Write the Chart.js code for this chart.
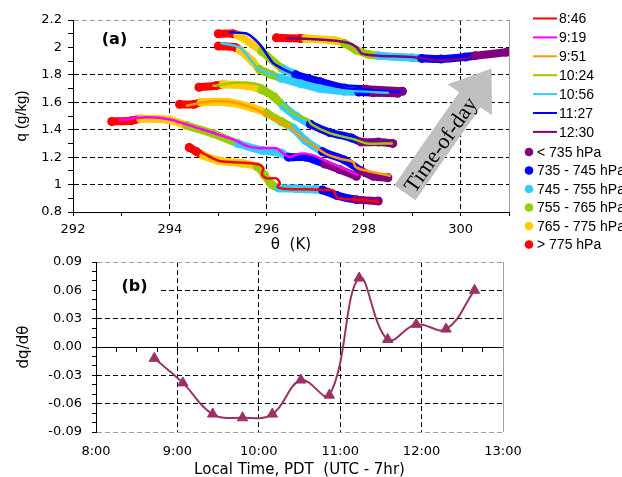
<!DOCTYPE html>
<html><head><meta charset="utf-8">
<script src="https://cdn.jsdelivr.net/npm/chart.js@4/dist/chart.umd.min.js"></script>
<style>
html,body{margin:0;padding:0;background:#fff;}
#wrap{position:relative;width:622px;height:477px;overflow:hidden;}
#ca{position:absolute;left:0;top:0;}
#cb{position:absolute;left:0;top:254px;}
</style></head><body>
<div id="wrap">
<canvas id="ca" width="622" height="254"></canvas>
<canvas id="cb" width="622" height="223"></canvas>
</div>
<script>
// ---------- DATA: panel (a) ----------
const timeLabels = ['8:46','9:19','9:51','10:24','10:56','11:27','12:30'];
const pressureLabels = ['< 735 hPa','735 - 745 hPa','745 - 755 hPa','755 - 765 hPa','765 - 775 hPa','> 775 hPa'];
const xTickLabelsA = ['292','294','296','298','300'];
const yTickLabelsA = ['0.8','1','1.2','1.4','1.6','1.8','2','2.2'];

// profile lines [theta K, q g/kg]
const line0846 = [[294.62,1.24],[294.9,1.19],[295.05,1.17],[295.5,1.16],[295.85,1.145],[295.93,1.12],[295.9,1.075],[296.0,1.045],[296.2,1.045],[296.27,1.01],[296.22,0.985],[296.35,0.97],[296.8,0.965],[297.3,0.96],[297.38,0.955],[297.45,0.905],[297.6,0.895],[298.0,0.885],[298.3,0.875]];
const line0919 = [[292.97,1.47],[293.5,1.49],[294.0,1.475],[294.6,1.41],[295.3,1.33],[295.6,1.28],[295.86,1.265],[296.2,1.265],[296.33,1.23],[296.47,1.2],[296.68,1.225],[296.95,1.215],[297.24,1.17],[297.5,1.13],[297.88,1.07]];
const line0951 = [[294.35,1.575],[294.7,1.6],[294.97,1.61],[295.3,1.6],[295.7,1.56],[296.0,1.51],[296.27,1.46],[296.5,1.42],[296.62,1.37],[296.9,1.3],[297.24,1.22],[297.55,1.185],[297.78,1.165],[297.83,1.13],[297.95,1.11],[298.54,1.065]];
const line1024 = [[294.9,1.72],[295.45,1.745],[295.92,1.72],[296.2,1.63],[296.54,1.52],[296.85,1.475],[296.92,1.44],[297.3,1.375],[297.8,1.33],[298.06,1.3],[298.58,1.3]];
const line1056 = [[295.07,2.03],[295.44,2.0],[295.71,1.89],[295.86,1.83],[296.0,1.815],[296.33,1.78],[296.68,1.74],[297.09,1.71],[297.65,1.685],[298.5,1.67]];
const line1127 = [[295.24,2.11],[295.59,2.1],[295.86,2.02],[296.12,1.89],[296.27,1.855],[296.47,1.82],[296.82,1.775],[297.09,1.745],[297.65,1.7],[298.33,1.685],[298.78,1.677]];
const line1230 = [[296.41,2.065],[296.68,2.065],[297.36,2.05],[297.71,2.03],[297.86,2.0],[297.96,1.955],[298.3,1.94],[299.0,1.93],[299.5,1.905],[300.05,1.92],[300.9,1.96]];

// observation bands [theta, q, pressure class] class: 0 <735, 1 735-745, 2 745-755, 3 755-765, 4 765-775, 5 >775
const band0846 = [[294.4,1.27,5],[294.55,1.24,5],[294.7,1.21,4],[295.0,1.175,4],[295.5,1.155,4],[295.8,1.13,3],[295.95,1.07,3],[296.1,1.0,3],[296.25,0.975,2],[296.6,0.97,2],[297.0,0.965,2],[297.15,0.96,1],[297.45,0.92,1],[297.85,0.89,0],[298.3,0.88,0]];
const band0919 = [[292.8,1.46,5],[293.2,1.465,5],[293.4,1.48,4],[294.0,1.47,4],[294.35,1.43,3],[294.9,1.37,3],[295.4,1.3,2],[295.9,1.25,2],[296.3,1.23,2],[296.45,1.2,1],[296.8,1.2,1],[297.2,1.15,0],[297.5,1.11,0],[297.85,1.06,0]];
const band0951 = [[294.2,1.585,5],[294.5,1.585,5],[294.65,1.6,4],[295.2,1.6,4],[295.7,1.56,4],[296.0,1.52,3],[296.3,1.46,3],[296.55,1.41,2],[296.8,1.32,2],[297.15,1.24,1],[297.6,1.18,1],[297.95,1.1,0],[298.2,1.06,0],[298.5,1.05,0]];
const band1024 = [[294.6,1.71,5],[294.95,1.72,5],[295.1,1.73,4],[295.6,1.72,4],[295.9,1.69,3],[296.15,1.64,3],[296.35,1.57,2],[296.6,1.5,2],[296.9,1.44,1],[297.3,1.38,1],[297.75,1.34,1],[297.95,1.31,0],[298.3,1.31,0],[298.6,1.3,0]];
const band1056 = [[295.0,2.01,5],[295.35,2.0,5],[295.45,1.98,4],[295.7,1.9,4],[295.85,1.84,3],[296.1,1.8,3],[296.3,1.775,2],[296.7,1.735,2],[297.1,1.7,2],[297.6,1.68,2],[297.9,1.675,1],[298.2,1.67,0],[298.7,1.665,0]];
const band1127 = [[295.0,2.1,5],[295.3,2.1,5],[295.4,2.09,4],[295.8,2.0,4],[295.9,1.97,3],[296.3,1.85,3],[296.35,1.84,2],[296.55,1.81,2],[296.6,1.8,1],[297.1,1.75,1],[297.6,1.705,1],[298.05,1.695,0],[298.8,1.68,0]];
const band1230 = [[296.2,2.07,5],[296.7,2.065,5],[296.8,2.065,4],[297.4,2.05,4],[297.6,2.03,3],[297.85,1.98,3],[298.1,1.95,3],[298.3,1.94,2],[299.0,1.925,2],[299.2,1.92,1],[299.6,1.915,1],[300.1,1.93,1],[300.3,1.94,0],[300.95,1.965,0]];

// ---------- DATA: panel (b) ----------
const sampleTimes = ['8:43','9:04','9:26','9:48','10:10','10:31','10:52','11:14','11:35','11:56','12:18','12:39'];
const dqdtheta = [-0.012,-0.038,-0.071,-0.075,-0.071,-0.035,-0.051,0.073,0.008,0.024,0.019,0.060];
const xTickLabelsB = ['8:00','9:00','10:00','11:00','12:00','13:00'];
const yTickLabelsB = ['-0.09','-0.06','-0.03','0.00','0.03','0.06','0.09'];

// ---------- styles ----------
const timeColors = ['#ff0000','#ff00ff','#ff9900','#99cc00','#33ccff','#0000ff','#800080'];
const pressureColors = ['#800080','#0000ff','#33ccff','#99cc00','#ffcc00','#ff0000'];
const lines = [line0846,line0919,line0951,line1024,line1056,line1127,line1230];
const bands = [band0846,band0919,band0951,band1024,band1056,band1127,band1230];

Chart.defaults.font.family = '"DejaVu Sans", sans-serif';
Chart.defaults.color = '#000';

function toHours(s){ const p = s.split(':'); return +p[0] + (+p[1])/60; }
function numLabel(list, v){ const h = list.find(s => Math.abs(parseFloat(s) - v) < 1e-6); return h === undefined ? '' : h; }
function timeLabel(list, v){ const h = list.find(s => Math.abs(toHours(s) - v) < 1e-6); return h === undefined ? '' : h; }

const GRAY = '#a0a0a0';

const frameRight = {
  id: 'frameRight',
  beforeDatasetsDraw(chart){
    const {ctx, chartArea: a} = chart;
    ctx.save(); ctx.strokeStyle = GRAY; ctx.lineWidth = 1; ctx.setLineDash([]);
    const x = Math.round(a.right) + 0.5;
    ctx.beginPath(); ctx.moveTo(x, a.top); ctx.lineTo(x, a.bottom); ctx.stroke();
    ctx.restore();
  }
};
function panelLabel(text, cx, cy, boxRight, boxH){
  return {
    id: 'panelLabel',
    beforeDatasetsDraw(chart){
      const {ctx, chartArea: a} = chart;
      ctx.save();
      ctx.fillStyle = '#fff';
      ctx.fillRect(a.left + 1, a.top + cy - boxH/2, boxRight - a.left - 1, boxH);
      ctx.fillStyle = '#000';
      ctx.font = 'bold 16px "DejaVu Sans"';
      ctx.textAlign = 'center'; ctx.textBaseline = 'middle';
      ctx.fillText(text, a.left + cx, a.top + cy);
      ctx.restore();
    }
  };
}
const legendA = {
  id: 'legendA',
  afterDraw(chart){
    const ctx = chart.ctx;
    ctx.save();
    ctx.font = '14px "Liberation Sans"';
    ctx.textBaseline = 'middle'; ctx.textAlign = 'left';
    timeLabels.forEach((t, i) => {
      const y = 18.5 + i * 18.9;
      ctx.strokeStyle = timeColors[i]; ctx.lineWidth = 2;
      ctx.beginPath(); ctx.moveTo(533, y); ctx.lineTo(557, y); ctx.stroke();
      ctx.fillStyle = '#000'; ctx.fillText(t, 559, y + 1);
    });
    pressureLabels.forEach((p, i) => {
      const y = 152 + i * 18.5;
      ctx.fillStyle = pressureColors[i];
      ctx.beginPath(); ctx.arc(529, y, 4.3, 0, Math.PI * 2); ctx.fill();
      ctx.fillStyle = '#000'; ctx.fillText(p, 537, y + 1);
    });
    ctx.restore();
  }
};
const arrowA = {
  id: 'arrowA',
  afterDatasetsDraw(chart){
    const {ctx, scales} = chart;
    const x0 = scales.x.getPixelForValue(298.85), y0 = scales.y.getPixelForValue(0.94);
    const x1 = scales.x.getPixelForValue(300.64), y1 = scales.y.getPixelForValue(1.846);
    const len = Math.hypot(x1 - x0, y1 - y0);
    const dx = (x1 - x0) / len, dy = (y1 - y0) / len;
    const px = -dy, py = dx;
    const hw = 13, hh = 27, hl = 38;
    const bx = x1 - dx * hl, by = y1 - dy * hl;
    ctx.save();
    ctx.fillStyle = '#c0c0c0';
    ctx.beginPath();
    ctx.moveTo(x0 + px*hw, y0 + py*hw);
    ctx.lineTo(bx + px*hw, by + py*hw);
    ctx.lineTo(bx + px*hh, by + py*hh);
    ctx.lineTo(x1, y1);
    ctx.lineTo(bx - px*hh, by - py*hh);
    ctx.lineTo(bx - px*hw, by - py*hw);
    ctx.lineTo(x0 - px*hw, y0 - py*hw);
    ctx.closePath(); ctx.fill();
    ctx.translate(x0 + dx*60 + px*2, y0 + dy*60 + py*2);
    ctx.rotate(Math.atan2(dy, dx));
    ctx.fillStyle = '#000';
    ctx.font = '22px "Liberation Serif"';
    ctx.textAlign = 'center'; ctx.textBaseline = 'middle';
    ctx.fillText('Time-of-day', 0, 1);
    ctx.restore();
  }
};

// datasets for panel (a): thin time lines on top, colored observation bands beneath
const dsA = [];
lines.forEach((ln, i) => {
  dsA.push({
    label: timeLabels[i],
    data: ln.map(p => ({x: p[0], y: p[1]})),
    showLine: true, borderColor: timeColors[i], borderWidth: 2.5,
    pointRadius: 0, tension: 0.25, order: 0,
    borderCapStyle: 'round', borderJoinStyle: 'round'
  });
});
bands.forEach((bd, i) => {
  dsA.push({
    label: 'obs ' + timeLabels[i],
    data: bd.map(p => ({x: p[0], y: p[1]})),
    showLine: true, borderWidth: 8, tension: 0.25, order: 1,
    pointRadius: 4.5, pointHoverRadius: 4.5, pointBorderWidth: 0,
    pointBackgroundColor: bd.map(p => pressureColors[p[2]]),
    borderColor: pressureColors[bd[0][2]],
    borderCapStyle: 'round', borderJoinStyle: 'round',
    segment: { borderColor: c => pressureColors[bd[c.p0DataIndex][2]] }
  });
});

new Chart(document.getElementById('ca'), {
  type: 'scatter',
  data: { datasets: dsA },
  options: {
    responsive: false, animation: false, devicePixelRatio: 1,
    layout: { padding: { left: 0, right: 113, top: 20, bottom: 0 } },
    plugins: { legend: { display: false }, tooltip: { enabled: false } },
    scales: {
      x: {
        type: 'linear', min: 292, max: 301,
        ticks: { stepSize: 1, autoSkip: false, maxRotation: 0, padding: 6, font: { size: 13 }, color: '#000',
                 callback: v => numLabel(xTickLabelsA, v) },
        grid: { color: c => (Math.round(c.tick.value) % 2 === 0 && c.tick.value > 292.5 && c.tick.value < 300.5) ? '#000' : 'transparent',
                tickColor: '#000', tickLength: 4, lineWidth: 1 },
        border: { display: true, color: '#000', width: 1, dash: [5, 3] },
        title: { display: true, text: 'θ  (K)', font: { size: 15 }, color: '#000', padding: { top: 0, bottom: 0 } },
        afterFit: s => { s.height = 42; }
      },
      y: {
        type: 'linear', min: 0.8, max: 2.2,
        ticks: { stepSize: 0.1, autoSkip: false, padding: 6, font: { size: 13 }, color: '#000',
                 callback: v => numLabel(yTickLabelsA, v) },
        grid: { color: c => {
                  const k = Math.round(c.tick.value * 10);
                  if (k === 22) return GRAY;
                  if (k === 8) return 'transparent';
                  return k % 2 === 0 ? '#000' : 'transparent';
                },
                tickColor: '#000', tickLength: 5, lineWidth: 1 },
        border: { display: true, color: '#000', width: 1, dash: [5, 3] },
        title: { display: true, text: 'q (g/kg)', font: { size: 15, family: '"Liberation Sans"' }, color: '#000', padding: { top: 13, bottom: 0 } },
        afterFit: s => { s.width = 73; s.paddingTop = 8; s.paddingBottom = 8; }
      }
    }
  },
  plugins: [frameRight, panelLabel('(a)', 41.5, 20, 140, 26), legendA, arrowA]
});

new Chart(document.getElementById('cb'), {
  type: 'scatter',
  data: { datasets: [{
    label: 'dq/dθ',
    data: sampleTimes.map((t, i) => ({ x: toHours(t), y: dqdtheta[i] })),
    showLine: true, borderColor: '#993366', borderWidth: 2,
    backgroundColor: '#993366', pointBackgroundColor: '#993366', pointBorderColor: '#993366',
    pointStyle: 'triangle', pointRadius: 6, pointBorderWidth: 1, tension: 0.4
  }] },
  options: {
    responsive: false, animation: false, devicePixelRatio: 1,
    layout: { padding: { left: 0, right: 119, top: 8, bottom: 0 } },
    plugins: { legend: { display: false }, tooltip: { enabled: false } },
    scales: {
      x: {
        type: 'linear', position: 'bottom', min: 8, max: 13,
        ticks: { stepSize: 1, autoSkip: false, maxRotation: 0, padding: 12, font: { size: 13 }, color: '#000',
                 callback: v => timeLabel(xTickLabelsB, v) },
        grid: { color: c => (c.tick.value > 8.5 && c.tick.value < 12.5) ? '#000' : 'transparent', drawTicks: false, lineWidth: 1 },
        border: { display: false, dash: [5, 3] },
        title: { display: true, text: 'Local Time, PDT  (UTC - 7hr)', font: { size: 15 }, color: '#000', padding: { top: 0, bottom: -2 } },
        afterFit: s => { s.height = 45; }
      },
      x2: {
        type: 'linear', axis: 'x', position: { y: 0 }, min: 8, max: 13,
        ticks: { stepSize: 0.25, display: false, autoSkip: false },
        grid: { drawOnChartArea: false, drawTicks: true, tickLength: 4, tickColor: '#000' },
        border: { display: true, color: '#000', width: 1 },
        afterFit: s => { s.height = 0; s.paddingLeft = 0; s.paddingRight = 0; s.paddingTop = 0; s.paddingBottom = 0; }
      },
      y: {
        type: 'linear', min: -0.09, max: 0.09,
        ticks: { stepSize: 0.01, autoSkip: false, padding: 10, font: { size: 13 }, color: '#000',
                 callback: v => numLabel(yTickLabelsB, v) },
        grid: { color: c => {
                  const k = Math.round(c.tick.value * 100);
                  if (Math.abs(k) === 9) return GRAY;
                  if (k === 0) return 'transparent';
                  return (k % 3 === 0) ? '#000' : 'transparent';
                },
                tickColor: '#000', tickLength: 4, lineWidth: 1 },
        border: { display: true, color: '#000', width: 1, dash: [5, 3] },
        title: { display: true, text: 'dq/dθ', font: { size: 15 }, color: '#000', padding: { top: 15, bottom: 0 } },
        afterFit: s => { s.width = 96; s.paddingTop = 8; s.paddingBottom = 8; }
      }
    }
  },
  plugins: [frameRight, panelLabel('(b)', 38.5, 25, 159, 26)]
});
</script>
</body></html>
